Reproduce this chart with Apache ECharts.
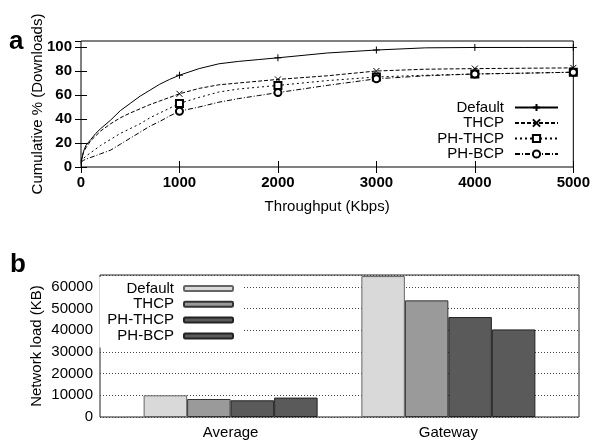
<!DOCTYPE html>
<html>
<head>
<meta charset="utf-8">
<script src="https://cdn.jsdelivr.net/npm/echarts@6/dist/echarts.min.js"></script>
<style>
  html, body { margin: 0; padding: 0; background: #fff; }
  #chart { width: 593px; height: 440px; }
</style>
</head>
<body>
<div id="chart"></div>
<script>
// panel a: cumulative % of downloads vs throughput
const throughput = [0, 25, 50, 100, 150, 200, 300, 400, 500, 600, 700, 800, 900, 1000,
  1200, 1400, 1600, 1800, 2000, 2500, 3000, 3500, 4000, 4500, 5000];
const cdfDefault = [3, 13, 18, 23, 28, 32, 39, 47, 53, 59, 64, 69, 73, 76.5,
  82, 86, 88, 89.5, 91, 95, 97.5, 99.3, 99.6, 99.6, 99.6];
const cdfTHCP = [5, 12, 16, 22, 26, 30, 36, 41, 45, 48.5, 52, 55, 58, 61,
  65.5, 68.5, 70, 71.5, 73, 76, 80, 81.5, 82, 82.3, 82.6];
const cdfPHTHCP = [4, 7, 9, 12, 15, 18, 23, 28, 32, 36, 41, 45, 49, 53,
  58, 62.5, 65, 66.5, 68, 72, 75, 76.5, 77.5, 78.2, 79];
const cdfPHBCP = [4, 5.5, 6.5, 8, 9.5, 11, 14, 19, 24, 29, 34, 38, 42.5, 46.5,
  50, 54, 57, 59.5, 62, 68, 73.5, 76, 77.5, 78.2, 79];
const lineNames = ["Default", "THCP", "PH-THCP", "PH-BCP"];

// panel b: network load
const loadCategories = ["Average", "Gateway"];
const loadDefault = [10000, 65000];
const loadTHCP = [8300, 53800];
const loadPHTHCP = [7700, 46100];
const loadPHBCP = [8950, 40400];

const FONT = "Liberation Sans";
const plain = (v) => String(v);

// markers only every 1000 Kbps (like gnuplot pointinterval)
function withMarkers(ys) {
  return throughput.map((x, i) => {
    const item = { value: [x, ys[i]] };
    if (x === 0 || x % 1000 !== 0) item.symbol = "none";
    return item;
  });
}

const lineDefs = [
  { ys: cdfDefault, symbol: "path://M0,5L10,5M5,0L5,10", size: 7, type: "solid" },
  { ys: cdfTHCP, symbol: "path://M0,0L10,10M10,0L0,10", size: 6, type: [4, 2] },
  { ys: cdfPHTHCP, symbol: "emptyRect", size: 7, type: [2, 3] },
  { ys: cdfPHBCP, symbol: "emptyCircle", size: 7, type: [5, 2, 1, 2] },
];

const lineSeries = lineDefs.map((d, i) => ({
  name: lineNames[i],
  type: "line",
  xAxisIndex: 0,
  yAxisIndex: 0,
  data: withMarkers(d.ys),
  symbol: d.symbol,
  symbolSize: d.size,
  showAllSymbol: true,
  animation: false,
  lineStyle: { color: "#000", width: 1, type: d.type },
  itemStyle: { color: "#000", borderColor: "#000", borderWidth: 1 },
}));

const barFills = ["#d9d9d9", "#9a9a9a", "#5a5a5a", "#5a5a5a"];
const barBorders = ["#666", "#333", "#222", "#222"];
const barValues = [loadDefault, loadTHCP, loadPHTHCP, loadPHBCP];

// bar series get a trailing space so the two legends stay separate
const barSeries = barValues.map((vals, i) => ({
  name: lineNames[i] + " ",
  type: "bar",
  xAxisIndex: 2,
  yAxisIndex: 2,
  barWidth: 43.5,
  barGap: "0%",
  animation: false,
  data: vals.map((v, k) => [k, v]),
  itemStyle: { color: barFills[i], borderColor: barBorders[i], borderWidth: 1 },
}));

const chart = echarts.init(document.getElementById("chart"), null, { renderer: "canvas" });

const tickLabelTop = { fontFamily: FONT, fontSize: 15, fontWeight: "bold", color: "#000", formatter: plain };

chart.setOption({
  animation: false,
  textStyle: { fontFamily: FONT },
  title: [
    { text: "a", left: 9, top: 29, padding: 0, textStyle: { fontFamily: FONT, fontSize: 26, fontWeight: "bold", color: "#000" } },
    { text: "b", left: 10, top: 252, padding: 0, textStyle: { fontFamily: FONT, fontSize: 26, fontWeight: "bold", color: "#000" } },
  ],
  grid: [
    { left: 81, right: 14, top: 41, bottom: 273, show: true, borderColor: "#000", borderWidth: 1 },
    { left: 100, right: 14, top: 275, bottom: 23, show: true, borderColor: "#222", borderWidth: 1 },
  ],
  legend: [
    {
      data: lineNames,
      orient: "vertical",
      align: "right",
      right: 34,
      top: 100,
      padding: 0,
      itemWidth: 43,
      itemHeight: 9,
      itemGap: 0.5,
      selectedMode: false,
      textStyle: { fontFamily: FONT, fontSize: 15, color: "#000", lineHeight: 15, padding: [0, 6, 0, 0] },
    },
    {
      data: lineNames.map((n) => n + " "),
      formatter: (n) => n.trim(),
      orient: "vertical",
      align: "right",
      right: 351,
      top: 277,
      padding: [4, 8, 4, 8],
      backgroundColor: "#fff",
      itemWidth: 49,
      itemHeight: 5,
      itemGap: 0.8,
      selectedMode: false,
      textStyle: { fontFamily: FONT, fontSize: 15, color: "#000", lineHeight: 15, padding: [0, 5, 0, 0] },
    },
  ],
  xAxis: [
    {
      gridIndex: 0,
      type: "value",
      min: 0,
      max: 5000,
      interval: 1000,
      name: "Throughput (Kbps)",
      nameLocation: "middle",
      nameGap: 32,
      nameMoveOverlap: false,
      nameTextStyle: { fontFamily: FONT, fontSize: 15, color: "#000" },
      axisLine: { show: false },
      axisTick: { inside: true, length: 6, lineStyle: { color: "#000" } },
      axisLabel: Object.assign({ margin: 8 }, tickLabelTop),
      splitLine: { show: false },
    },
    {
      gridIndex: 0,
      type: "value",
      position: "top",
      min: 0,
      max: 5000,
      interval: 1000,
      axisLine: { show: false },
      axisTick: { inside: true, length: 6, lineStyle: { color: "#000" } },
      axisLabel: { show: false },
      splitLine: { show: false },
    },
    {
      gridIndex: 1,
      type: "value",
      min: -0.6,
      max: 1.6,
      interval: 0.2,
      axisLine: { show: false },
      axisTick: { show: false },
      splitLine: { show: false },
      axisLabel: {
        margin: 8,
        fontFamily: FONT,
        fontSize: 15,
        color: "#000",
        formatter: (v) => {
          const k = Math.round(v);
          return Math.abs(v - k) < 1e-6 && loadCategories[k] ? loadCategories[k] : "";
        },
      },
    },
  ],
  yAxis: [
    {
      gridIndex: 0,
      type: "value",
      min: 0,
      max: 105,
      interval: 20,
      name: "Cumulative % (Downloads)",
      nameLocation: "middle",
      nameGap: 36,
      nameMoveOverlap: false,
      nameTextStyle: { fontFamily: FONT, fontSize: 15, color: "#000" },
      axisLine: { show: false },
      axisTick: { inside: true, length: 6, lineStyle: { color: "#000" } },
      axisLabel: Object.assign({ margin: 9, showMaxLabel: false }, tickLabelTop),
      splitLine: { show: false },
    },
    {
      gridIndex: 0,
      type: "value",
      position: "right",
      min: 0,
      max: 105,
      interval: 20,
      axisLine: { show: false },
      axisTick: { inside: true, length: 6, lineStyle: { color: "#000" } },
      axisLabel: { show: false },
      splitLine: { show: false },
    },
    {
      gridIndex: 1,
      type: "value",
      min: 0,
      max: 65500,
      interval: 10000,
      name: "Network load (KB)",
      nameLocation: "middle",
      nameGap: 56,
      nameMoveOverlap: false,
      nameTextStyle: { fontFamily: FONT, fontSize: 15, color: "#000" },
      axisLine: { show: false },
      axisTick: { show: false },
      axisLabel: { margin: 7, showMaxLabel: false, fontFamily: FONT, fontSize: 15, color: "#000", formatter: plain },
      splitLine: { lineStyle: { type: [1, 2], color: "#444", width: 1 } },
    },
  ],
  series: lineSeries.concat(barSeries),
});
</script>
</body>
</html>
